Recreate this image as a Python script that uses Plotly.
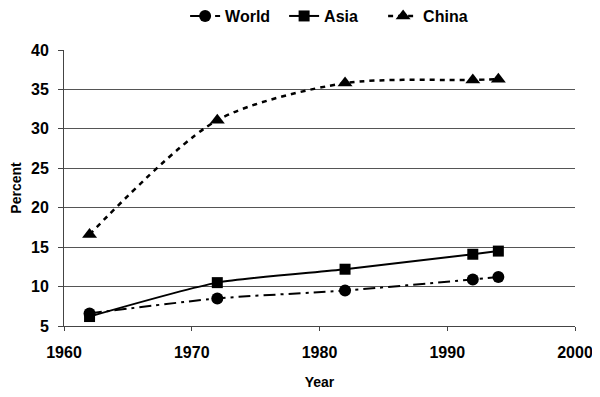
import plotly.graph_objects as go

years = [1962, 1972, 1982, 1992, 1994]
world = [6.6, 8.5, 9.5, 10.9, 11.2]
asia = [6.2, 10.5, 12.2, 14.1, 14.5]
china = [16.6, 31.1, 35.8, 36.2, 36.3]

x_ticks = [1960, 1970, 1980, 1990, 2000]
y_ticks = [5, 10, 15, 20, 25, 30, 35, 40]

fig = go.Figure()
fig.add_trace(go.Scatter(x=years, y=world, name="World", mode="lines+markers",
                         line=dict(color="black", width=2, dash="12px,5px,3px,5px", shape="spline", smoothing=0.6),
                         marker=dict(symbol="circle", size=12, color="black")))
fig.add_trace(go.Scatter(x=years, y=asia, name="Asia", mode="lines+markers",
                         line=dict(color="black", width=2, shape="spline", smoothing=0.6),
                         marker=dict(symbol="square", size=11, color="black")))
fig.add_trace(go.Scatter(x=years, y=china, name="China", mode="lines+markers",
                         line=dict(color="black", width=2.5, dash="5px,5px", shape="spline", smoothing=0.8),
                         marker=dict(symbol="triangle-up", size=13, color="black")))

font = "Liberation Sans, Arial, sans-serif"
fig.update_layout(
    width=592, height=389,
    margin=dict(l=56, r=25, t=42, b=71, autoexpand=False),
    paper_bgcolor="white", plot_bgcolor="white",
    font=dict(family=font, color="black"),
    legend=dict(orientation="h", x=0.237, xanchor="left", y=1.123, yanchor="middle",
                font=dict(size=16, family=font, weight="bold"), itemwidth=30,
                entrywidth=54, bgcolor="rgba(0,0,0,0)"),
    xaxis=dict(range=[1960, 2000], tickvals=x_ticks, showgrid=False, zeroline=False,
               showline=True, linecolor="#444", linewidth=1, ticks="outside", ticklen=4,
               tickcolor="#444", tickfont=dict(size=16, weight="bold"), ticklabelstandoff=8,
               title=dict(text="Year", font=dict(size=14, weight="bold"), standoff=16)),
    yaxis=dict(range=[5, 40], tickvals=y_ticks, showgrid=True, gridcolor="#555", gridwidth=1,
               zeroline=False, showline=True, linecolor="#444", linewidth=1,
               ticks="outside", ticklen=5, tickcolor="#444",
               tickfont=dict(size=16, weight="bold"), ticklabelstandoff=6,
               title=dict(text="Percent", font=dict(size=14, weight="bold"), standoff=8)),
)

fig.write_html("out.html")
